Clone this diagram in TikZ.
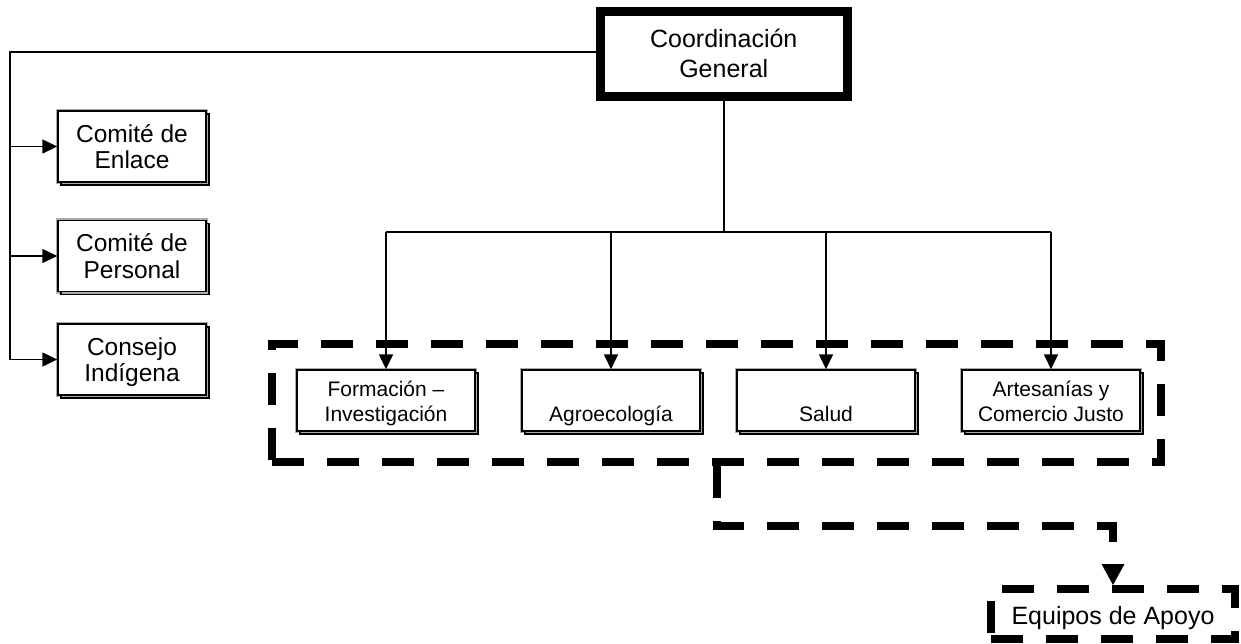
\documentclass[tikz,border=0pt]{standalone}
\usepackage{fontspec}
\setmainfont{Liberation Sans}
\usetikzlibrary{arrows.meta,shadows}
\newcommand\tsL{\rule{0pt}{23pt}}
\newcommand\bsL{\rule[-5.5pt]{0pt}{5.5pt}}
\newcommand\tsB{\rule{0pt}{21pt}}
\newcommand\bsB{\rule[-5pt]{0pt}{5pt}}
\newcommand\tsC{\rule{0pt}{20pt}}
\newcommand\bsC{\rule[-3pt]{0pt}{3pt}}
\begin{document}
\begin{tikzpicture}[x=1pt,y=-1pt,
  conn/.style={draw=black, line width=1.5pt},
  arr/.style={conn, -{Triangle[length=15pt,width=14pt]}},
  dbox/.style={fill=white, draw=black, line width=1.4pt, inner sep=0pt, align=center,
    preaction={draw=gray!65, line width=4.5pt},
    general shadow={shadow xshift=3pt, shadow yshift=-3pt, draw=black, line width=1.4pt}},
  leftbox/.style={dbox, minimum width=148pt, minimum height=71pt, font=\fontsize{24.5}{26.5}\selectfont},
  botbox/.style={dbox, minimum width=178pt, minimum height=61pt, font=\fontsize{21}{25}\selectfont},
  thickdash/.style={draw=black, line width=8pt, dash pattern=on 32pt off 23pt},
  topbox/.style={draw=black, line width=9pt, fill=white, inner sep=0pt, align=center,
    minimum width=247.5pt, minimum height=85pt, font=\fontsize{25}{30}\selectfont}
]
\useasboundingbox (0,0) rectangle (1241,643);

% group of areas
\node[thickdash, minimum width=889pt, minimum height=118pt, inner sep=0pt] (grp) at (716.5,403) {};

% top node
\node[topbox] (coord) at (723.75,53.5) {\tsC Coordinación\\General\bsC};

% left boxes
\node[leftbox] (enlace) at (132,146.5) {\tsL Comité de\\Enlace\bsL};
\node[leftbox] (personal) at (132,256) {\tsL Comité de\\Personal\bsL};
\node[leftbox] (consejo) at (132,359.5) {\tsL Consejo\\Indígena\bsL};

% bottom boxes
\node[botbox] (form) at (386,400.5) {\tsB Formación –\\Investigación\bsB};
\node[botbox] (agro) at (611,400.5) {\tsB\\Agroecología\bsB};
\node[botbox] (salud) at (826,400.5) {\tsB\\Salud\bsB};
\node[botbox] (artes) at (1051,400.5) {\tsB Artesanías y\\Comercio Justo\bsB};

% support teams
\node[thickdash, minimum width=244pt, minimum height=50pt, inner sep=0pt,
  font=\fontsize{25}{30}\selectfont, text height=26pt, text depth=5pt] (equipos) at (1113,614) {Equipos de Apoyo};

% left connectors
\coordinate (L) at (10,52);
\draw[conn] (coord.west |- L) -- (L) -- (L |- consejo.west);
\draw[arr] (L |- enlace.west) -- (enlace.west);
\draw[arr] (L |- personal.west) -- (personal.west);
\draw[arr] (L |- consejo.west) -- (consejo.west);

% main tree
\coordinate (hub) at (723.75,232);
\draw[conn] (coord.south) -- (hub);
\draw[conn] (form.north |- hub) -- (artes.north |- hub);
\draw[arr] (form.north |- hub) -- (form.north);
\draw[arr] (agro.north |- hub) -- (agro.north);
\draw[arr] (salud.north |- hub) -- (salud.north);
\draw[arr] (artes.north |- hub) -- (artes.north);

% dashed connector to support teams
\coordinate (bend) at (717,526);
\draw[thickdash, -{Triangle[length=21pt,width=23pt,line width=0pt]}]
  (grp.south) -- (grp.south |- bend) -| (equipos.north);
\end{tikzpicture}
\end{document}
